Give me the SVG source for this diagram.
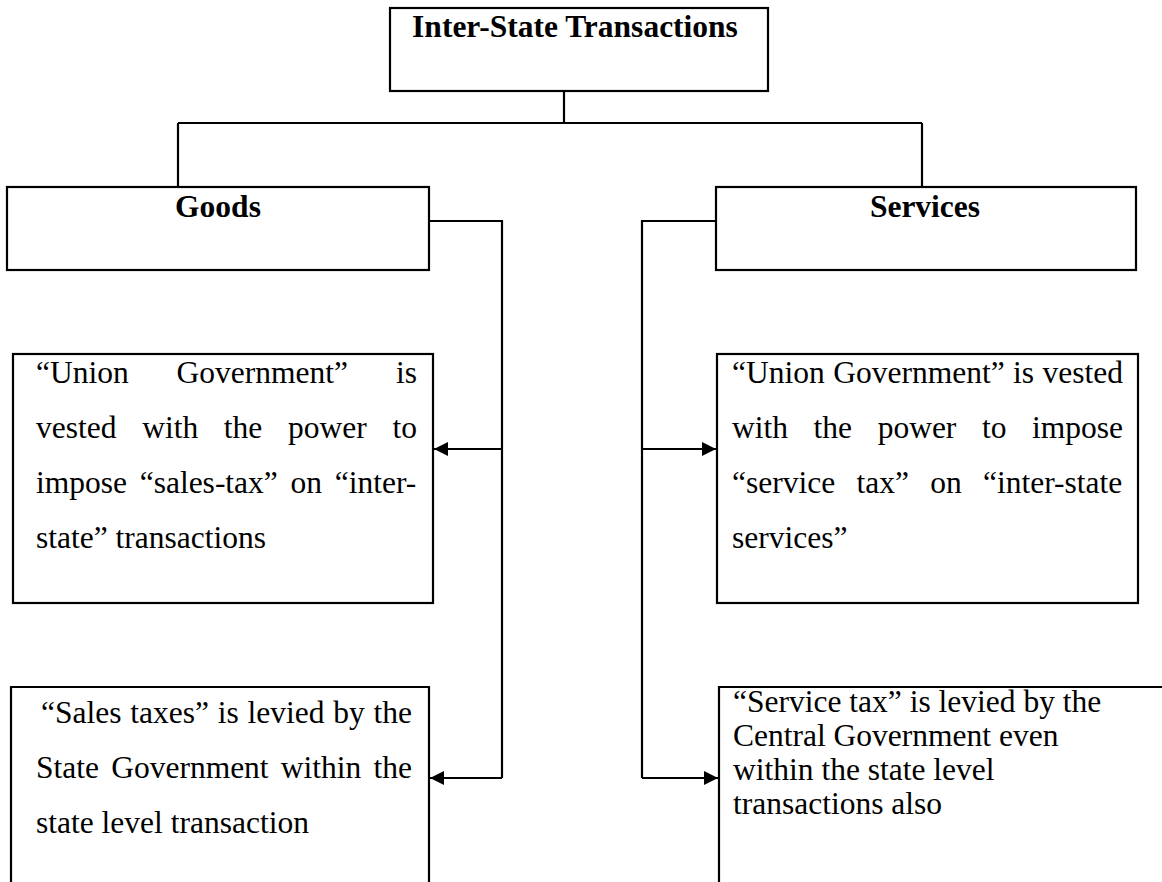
<svg xmlns="http://www.w3.org/2000/svg" width="1162" height="882" viewBox="0 0 1162 882">
  <defs>
    <style>
      .box { fill: none; stroke: #000; stroke-width: 2.2; }
      .conn { fill: none; stroke: #000; stroke-width: 2.2; }
      .h { font-family: "Liberation Serif", "Times New Roman", serif; font-weight: bold; font-size: 31.5px; fill: #000; }
      .t { font-family: "Liberation Serif", "Times New Roman", serif; font-size: 31.5px; fill: #000; }
    </style>
    <marker id="arr" markerUnits="userSpaceOnUse" markerWidth="16" markerHeight="14" refX="14" refY="7" orient="auto">
      <path d="M0,0 L14,7 L0,14 Z" fill="#000"/>
    </marker>
  </defs>
  <rect width="1162" height="882" fill="#fff"/>

  <g id="connectors">
    <path class="conn" d="M564,91 V123"/>
    <path class="conn" d="M178,123 H922"/>
    <path class="conn" d="M178,123 V187"/>
    <path class="conn" d="M922,123 V187"/>
    <path class="conn" d="M429,221 H502 V778"/>
    <path class="conn" d="M502,449 H434" marker-end="url(#arr)"/>
    <path class="conn" d="M502,778 H430" marker-end="url(#arr)"/>
    <path class="conn" d="M716,221 H642 V778"/>
    <path class="conn" d="M642,449 H716" marker-end="url(#arr)"/>
    <path class="conn" d="M642,778 H718" marker-end="url(#arr)"/>
  </g>

  <g id="inter-state">
    <rect class="box" x="390" y="8" width="378" height="83"/>
    <text class="h" x="575" y="37" text-anchor="middle">Inter-State Transactions</text>
  </g>

  <g id="goods">
    <rect class="box" x="7" y="187" width="422" height="83"/>
    <text class="h" x="218" y="217" text-anchor="middle">Goods</text>
  </g>

  <g id="services">
    <rect class="box" x="716" y="187" width="420" height="83"/>
    <text class="h" x="925" y="217" text-anchor="middle">Services</text>
  </g>

  <g id="goods-union">
    <rect class="box" x="13" y="354" width="420" height="249"/>
    <text class="t" x="36" y="383" word-spacing="40">“Union Government” is</text>
    <text class="t" x="36" y="438" word-spacing="17.8">vested with the power to</text>
    <text class="t" x="36" y="493" word-spacing="4.8">impose “sales-tax” on “inter-</text>
    <text class="t" x="36" y="548">state” transactions</text>
  </g>

  <g id="services-union">
    <rect class="box" x="717" y="354" width="421" height="249"/>
    <text class="t" x="732" y="383" word-spacing="0.6">“Union Government” is vested</text>
    <text class="t" x="732" y="438" word-spacing="17.7">with the power to impose</text>
    <text class="t" x="732" y="493" word-spacing="13.4">“service tax” on “inter-state</text>
    <text class="t" x="732" y="548">services”</text>
  </g>

  <g id="goods-sales">
    <path class="box" d="M11,882 V687 H429 V882"/>
    <text class="t" x="41" y="723" word-spacing="0.9">“Sales taxes” is levied by the</text>
    <text class="t" x="36" y="778" word-spacing="4.3">State Government within the</text>
    <text class="t" x="36" y="833">state level transaction</text>
  </g>

  <g id="services-central">
    <path class="box" d="M719,882 V687 H1162"/>
    <text class="t" x="733" y="712">“Service tax” is levied by the</text>
    <text class="t" x="733" y="746">Central Government even</text>
    <text class="t" x="733" y="780">within the state level</text>
    <text class="t" x="733" y="814">transactions also</text>
  </g>
</svg>
